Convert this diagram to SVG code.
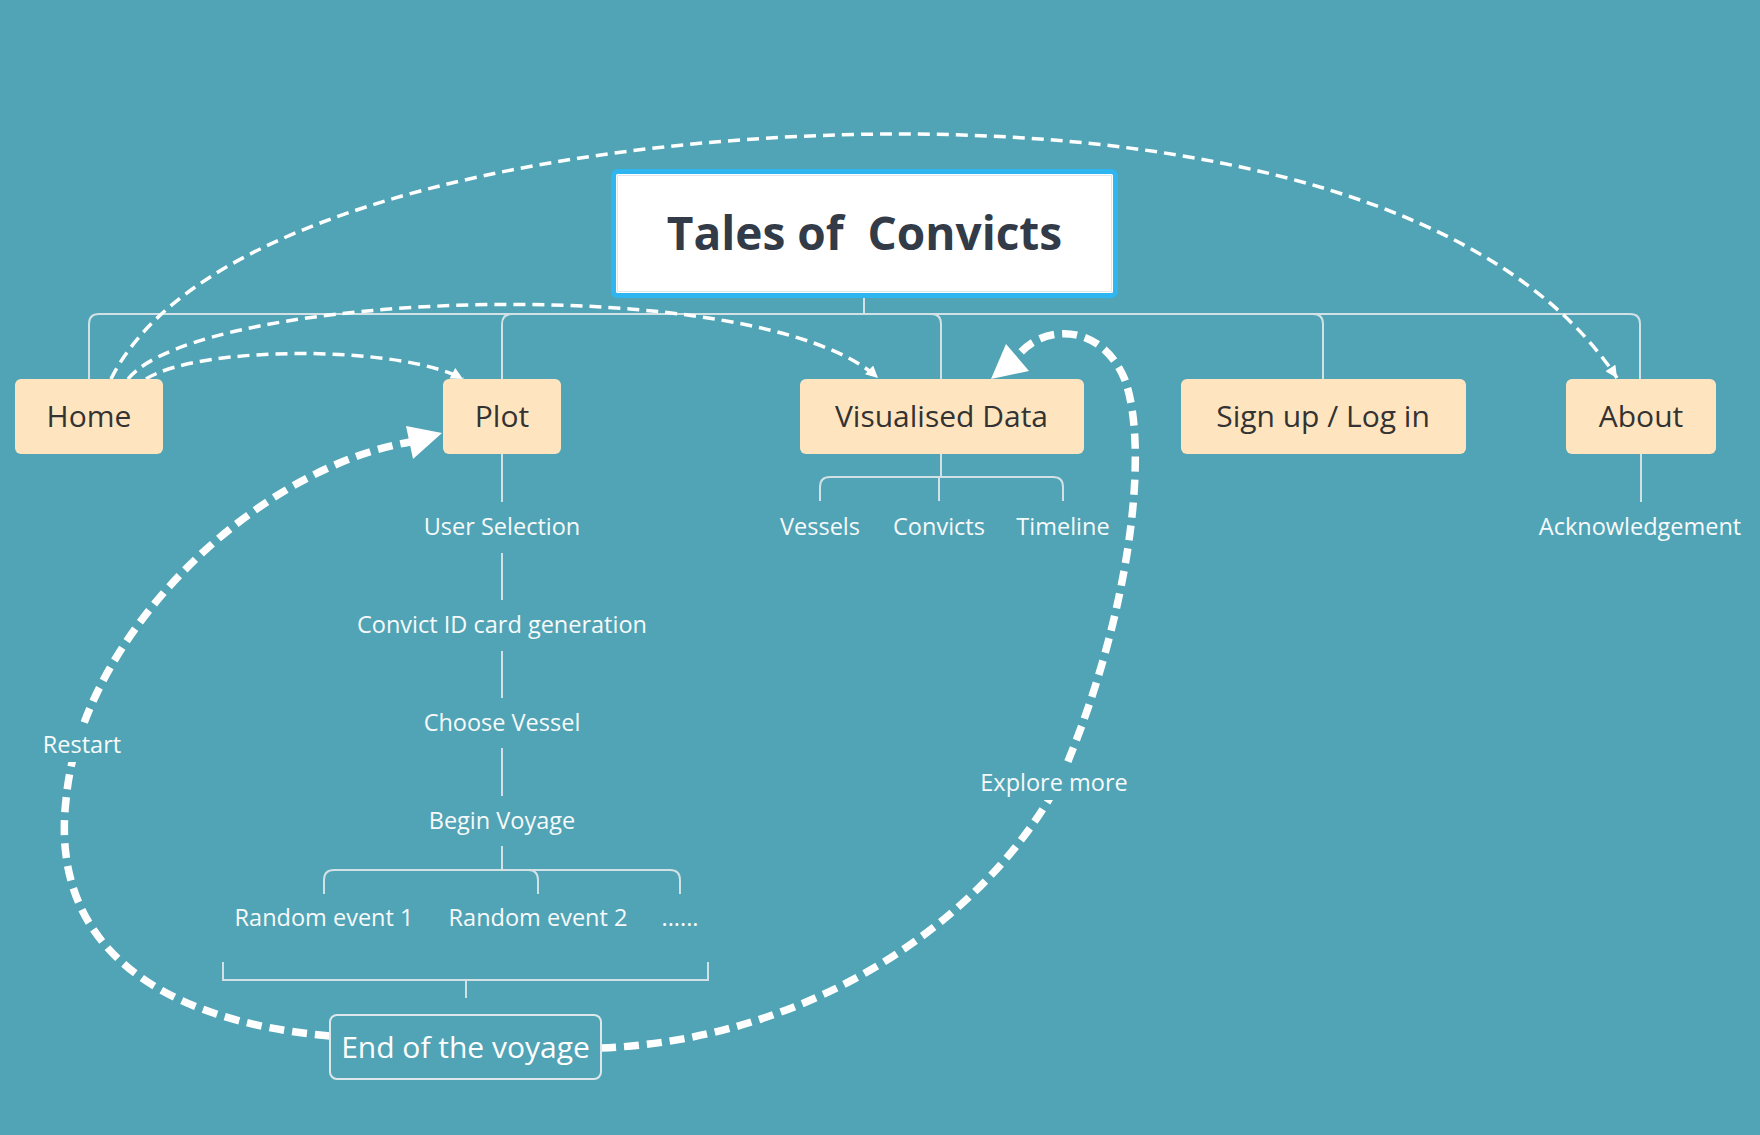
<svg xmlns="http://www.w3.org/2000/svg" width="1760" height="1135" viewBox="0 0 1760 1135">
  <defs>
    <style>
      .tree { fill: none; stroke: #D2E1E5; stroke-width: 2; }
      .node rect { fill: #FFE5BF; }
      .node text { font-family: "Open Sans", "Liberation Sans", sans-serif; font-size: 30px; fill: #333333; text-anchor: middle; }
      .sub { font-family: "Open Sans", "Liberation Sans", sans-serif; font-size: 23.5px; fill: #F7FAFB; text-anchor: middle; }
      .thin { fill: none; stroke: #FFFFFF; stroke-width: 3.5; stroke-dasharray: 12 7; }
      .thick { fill: none; stroke: #FFFFFF; stroke-width: 7.5; stroke-dasharray: 15 8; }
      .arrowhead { fill: #FFFFFF; }
    </style>
    <marker id="thinArrow" viewBox="0 0 10 10" refX="10" refY="5" markerUnits="userSpaceOnUse" markerWidth="14" markerHeight="12" orient="auto">
      <path d="M0 0 L10 5 L0 10 z" fill="#FFFFFF"/>
    </marker>
  </defs>

  <rect x="0" y="0" width="1760" height="1135" fill="#51A4B5"/>

  <!-- tree connectors -->
  <g id="connectors">
    <g class="tree">
      <path d="M864 297 V314"/>
      <path d="M89 379 V324 Q89 314 99 314 H1630 Q1640 314 1640 324 V379"/>
      <path d="M502 379 V324 Q502 314 512 314"/>
      <path d="M931 314 Q941 314 941 324 V379"/>
      <path d="M1313 314 Q1323 314 1323 324 V379"/>
      <!-- Plot chain -->
      <path d="M502 454 V502"/>
      <path d="M502 553 V600"/>
      <path d="M502 651 V698"/>
      <path d="M502 748 V796"/>
      <path d="M502 846 V870"/>
      <path d="M324 894 V880 Q324 870 334 870 H670 Q680 870 680 880 V894"/>
      <path d="M528 870 Q538 870 538 880 V894"/>
      <!-- bottom bracket -->
      <path d="M223 962 V980 H708 V962"/>
      <path d="M466 980 V998"/>
      <!-- Visualised data -->
      <path d="M941 454 V477"/>
      <path d="M820 501 V487 Q820 477 830 477 H1053 Q1063 477 1063 487 V501"/>
      <path d="M939 477 V501"/>
      <!-- About -->
      <path d="M1641 454 V502"/>
    </g>

    <!-- thin dashed links -->
    <path class="thin" d="M111 379 C 200 200, 600 134, 900 134 C 1200 134, 1500 200, 1617 378" marker-end="url(#thinArrow)"/>
    <path class="thin" d="M128 379 C 200 290, 760 270, 878 378" marker-end="url(#thinArrow)"/>
    <path class="thin" d="M146 379 C 200 345, 400 345, 463 379" marker-end="url(#thinArrow)"/>

    <!-- thick dashed loops -->
    <path class="thick" d="M330 1036 C 150 1020, 50 940, 66 800 C 80 640, 250 470, 410 442"/>
    <polygon class="arrowhead" points="406,426 442,433 413,459"/>
    <path class="thick" d="M601 1048 C 800 1040, 980 930, 1060 780 C 1130 620, 1150 450, 1125 380 C 1100 320, 1040 325, 1017 357"/>
    <polygon class="arrowhead" points="1006,344 1029,371 991,379"/>
  </g>

  <!-- title -->
  <g id="title">
    <rect x="613.5" y="171.5" width="502" height="124" rx="4" fill="#FFFFFF" stroke="#2FB5EF" stroke-width="5"/>
    <rect x="617.5" y="175.5" width="494" height="116" fill="#FFFFFF" stroke="#E2E6E8" stroke-width="1"/>
    <text x="864.5" y="250" font-family="'Open Sans', 'Liberation Sans', sans-serif" font-size="46" font-weight="bold" fill="#323B47" text-anchor="middle" xml:space="preserve">Tales of  Convicts</text>
  </g>

  <g id="home" class="node">
    <rect x="15" y="379" width="148" height="75" rx="6"/>
    <text x="89" y="427">Home</text>
  </g>
  <g id="plot" class="node">
    <rect x="443" y="379" width="118" height="75" rx="6"/>
    <text x="502" y="427">Plot</text>
  </g>
  <g id="visualised" class="node">
    <rect x="800" y="379" width="284" height="75" rx="6"/>
    <text x="941.5" y="427">Visualised Data</text>
  </g>
  <g id="signup" class="node">
    <rect x="1181" y="379" width="285" height="75" rx="6"/>
    <text x="1323" y="427">Sign up / Log in</text>
  </g>
  <g id="about" class="node">
    <rect x="1566" y="379" width="150" height="75" rx="6"/>
    <text x="1641" y="427">About</text>
  </g>

  <g id="plot-items">
    <text class="sub" x="502" y="535">User Selection</text>
    <text class="sub" x="502" y="633">Convict ID card generation</text>
    <text class="sub" x="502" y="731">Choose Vessel</text>
    <text class="sub" x="502" y="829">Begin Voyage</text>
    <text class="sub" x="324" y="926">Random event 1</text>
    <text class="sub" x="538" y="926">Random event 2</text>
    <text class="sub" x="680" y="926">......</text>
  </g>

  <g id="vis-items">
    <text class="sub" x="820" y="535">Vessels</text>
    <text class="sub" x="939" y="535">Convicts</text>
    <text class="sub" x="1063" y="535">Timeline</text>
  </g>

  <g id="about-items">
    <text class="sub" x="1640" y="535">Acknowledgement</text>
  </g>

  <g id="end-voyage">
    <rect x="330" y="1015" width="271" height="64" rx="7" fill="#51A4B5" stroke="#DCE8EB" stroke-width="2"/>
    <text x="465.5" y="1058" font-family="'Open Sans', 'Liberation Sans', sans-serif" font-size="30" fill="#FFFFFF" text-anchor="middle">End of the voyage</text>
  </g>

  <g id="labels">
    <rect x="38" y="728" width="90" height="34" fill="#51A4B5"/>
    <text class="sub" x="82" y="753">Restart</text>
    <rect x="978" y="766" width="152" height="34" fill="#51A4B5"/>
    <text class="sub" x="1054" y="791">Explore more</text>
  </g>
</svg>
